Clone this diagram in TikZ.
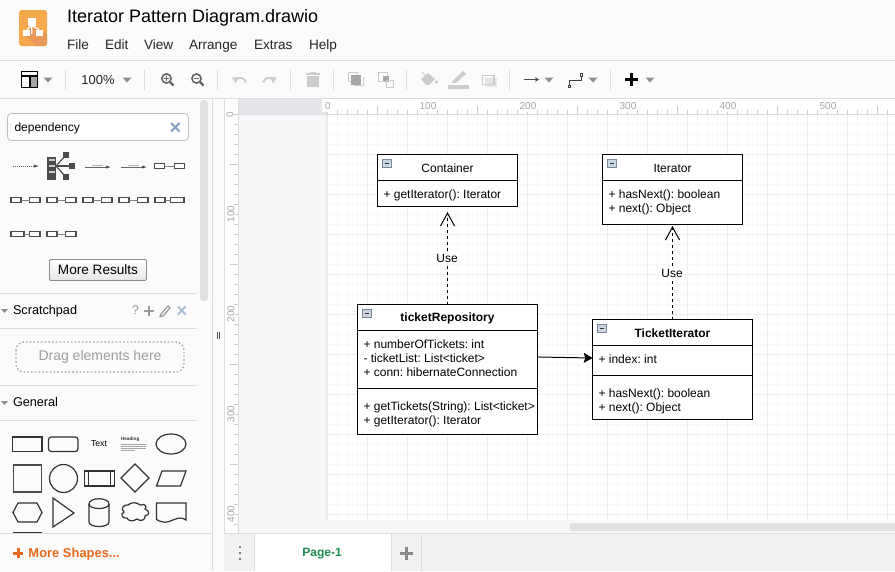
\documentclass[tikz,border=0pt]{standalone}
\usepackage{fontspec}
\setmainfont{Liberation Sans}
\usetikzlibrary{arrows.meta}
\AtBeginDocument{\frenchspacing}
\definecolor{panelbg}{HTML}{FBFBFB}
\definecolor{sepline}{HTML}{DDDDDD}
\definecolor{offpage}{HTML}{F7F8FA}
\definecolor{rulerband}{HTML}{E5E6EA}
\definecolor{gridminor}{HTML}{F8F8F8}
\definecolor{gridmajor}{HTML}{EEEEEE}
\definecolor{tabbar}{HTML}{F1F2F4}
\definecolor{scrollbarc}{HTML}{E0E1E3}
\definecolor{disabledc}{HTML}{CCCCCC}
\definecolor{iconc}{HTML}{666666}
\definecolor{caretc}{HTML}{8F8F8F}
\definecolor{orangec}{HTML}{E8691C}
\definecolor{logoc}{HTML}{F6A84C}
\definecolor{logodark}{HTML}{E8995A}
\definecolor{xblue}{HTML}{7F9FC2}
\definecolor{pagegreen}{HTML}{1C8C50}
\definecolor{collapsef}{HTML}{CBD5E0}
\definecolor{collapsed}{HTML}{7C8896}
\tikzset{
  x=0.75pt,y=-0.75pt,
  every node/.style={inner sep=0pt,outer sep=0pt},
  pxline/.style={line width=0.75pt},
  umlbox/.style={draw=black,pxline,fill=white,anchor=north west,minimum width=#1*0.75pt},
  f12/.style={font=\fontsize{9}{11}\selectfont,text=black},
  f13/.style={font=\fontsize{10.2}{12}\selectfont,text=black!85},
  member/.style={f12,anchor=base west},
  classtitle/.style={f12,anchor=center},
  classbold/.style={font=\bfseries\fontsize{9}{11}\selectfont,text=black,anchor=center},
  usedep/.style={pxline,dash pattern=on 2.25pt off 2.25pt,-{Straight Barb[length=9.75pt,width=10.5pt]}},
  assoc/.style={pxline,-{Stealth[length=6.5pt,width=7.5pt,inset=1pt]}},
  uselabel/.style={f12,fill=white,inner xsep=1pt,inner ysep=0.5pt},
  rulertext/.style={font=\fontsize{7.5}{9}\selectfont,text=black!35},
  collapser/.style={draw=collapsed,fill=collapsef,line width=0.6pt},
  thumb/.style={draw=black!70,line width=1pt,fill=white},
  shapeo/.style={draw=black!80,line width=0.9pt,fill=none},
  menu/.style={f13,anchor=base west},
  sectiont/.style={font=\fontsize{9.5}{12}\selectfont,text=black,anchor=base west},
  caret/.style={fill=caretc,draw=none},
  tbsep/.style={draw=sepline,pxline},
}
\newcommand{\caretat}[2]{\fill[caret] (#1-4.5,#2-2.5) -- (#1+4.5,#2-2.5) -- (#1,#2+2.5) -- cycle;}
\newcommand{\pairthumb}[5]{\draw[thumb] (#1,#5-2.5) rectangle (#2,#5+2.5); \draw[thumb] (#3,#5-2.5) rectangle (#4,#5+2.5); \draw[draw=black!50,line width=0.4pt] (#2,#5) -- (#3,#5);}
\newcommand{\collapseicon}[2]{\draw[collapser] (#1,#2) rectangle (#1+8.5,#2+8.5); \draw[black!80,line width=0.6pt] (#1+2,#2+4.25) -- (#1+6.5,#2+4.25);}
\begin{document}
\begin{tikzpicture}
\useasboundingbox (0,0) rectangle (895,571);
\clip (0,0) rectangle (895,571);
% backgrounds
\fill[panelbg] (0,0) rectangle (895,571);
\fill[offpage] (238,114) rectangle (895,533);
\fill[white] (327,114) rectangle (895,520);
% grid
\foreach \gx in {0,10,...,560} \draw[gridminor,line width=0.6pt] (327+\gx,114) -- (327+\gx,520);
\foreach \gy in {0,10,...,400} \draw[gridminor,line width=0.6pt] (327,114+\gy) -- (895,114+\gy);
\foreach \gx in {0,40,...,560} \draw[gridmajor,line width=0.6pt] (327+\gx,114) -- (327+\gx,520);
\foreach \gy in {0,40,...,400} \draw[gridmajor,line width=0.6pt] (327,114+\gy) -- (895,114+\gy);
\draw[black!10,line width=0.75pt] (326.5,114) -- (326.5,520);
% rulers
\fill[white] (224,98) rectangle (895,114);
\fill[rulerband] (238,98) rectangle (327,113.5);
\fill[white] (224,114) rectangle (238,533);
\draw[sepline,pxline] (238,114) -- (895,114);
\draw[sepline,pxline] (238,98) -- (238,533);
\draw[sepline,pxline] (224,98) -- (224,571);
\draw[sepline,pxline] (212,98) -- (212,571);
\foreach \tx in {0,10,...,560} \draw[black!20,line width=0.5pt] (327+\tx,110) -- (327+\tx,114);
\foreach \tx in {50,150,250,350,450,550} \draw[black!20,line width=0.5pt] (327+\tx,106) -- (327+\tx,114);
\foreach \ty in {0,10,...,410} \draw[black!20,line width=0.5pt] (234,114+\ty) -- (238,114+\ty);
\foreach \ty in {50,150,250,350} \draw[black!20,line width=0.5pt] (230,114+\ty) -- (238,114+\ty);
\fill[white] (322,99) rectangle (333,112);
\node[rulertext] (rt0) at (328,106) {0};
\foreach \n in {100,200,300,400,500} {\fill[white] (327+\n-8,100) rectangle (327+\n+10,112); \node[rulertext] (rt\n) at (328+\n,106) {\n};}
\node[rulertext,rotate=90] (rl0) at (230,114.5) {0};
\foreach \n in {100,200,300,400} {\fill[white] (225,114+\n-9) rectangle (235,114+\n+9); \node[rulertext,rotate=90] (rl\n) at (231,114+\n) {\n};}
% top header
\draw[sepline,pxline] (0,60.5) -- (895,60.5);
\draw[sepline,pxline] (0,98) -- (895,98);
\fill[logoc,rounded corners=2pt] (19,10) rectangle (47,46);
\fill[logodark] (26,36) -- (33,24) -- (47,34) -- (47,44) -- (45,46) -- (36,46) -- cycle;
\fill[white] (28,18) rectangle (35.5,26);
\fill[white] (23,29.5) rectangle (30,36);
\fill[white] (36,29.5) rectangle (43,36);
\draw[white,line width=1pt] (31.8,26) -- (31.8,34) (27,29.5) -- (31.8,25.5) -- (39,29.5);
\node[font=\fontsize{13.5}{16}\selectfont,text=black,anchor=base west] (title) at (67,22) {Iterator Pattern Diagram.drawio};
\node[menu] (mFile) at (67,49) {File};
\node[menu] (mEdit) at (105,49) {Edit};
\node[menu] (mView) at (144,49) {View};
\node[menu] (mArrange) at (189,49) {Arrange};
\node[menu] (mExtras) at (254,49) {Extras};
\node[menu] (mHelp) at (309,49) {Help};
% toolbar
\draw[black,line width=0.8pt] (21.5,71.5) rectangle (37.5,87.5);
\fill[black!35] (30,76) rectangle (37,87);
\draw[black,line width=0.8pt] (21.5,76) -- (37.5,76) (30,76) -- (30,87.5);
\caretat{48}{80}
\foreach \sx in {65.5,144.5,217.5,290.5,333.5,406.5,509.5,610.5} \draw[tbsep] (\sx,70) -- (\sx,90);
\node[font=\fontsize{9.75}{12}\selectfont,text=black!85,anchor=center] (zoomtxt) at (98,80) {100\%};
\caretat{127}{80}
% zoom icons
\draw[iconc,line width=1.2pt] (166.5,78.5) circle[radius=4.6];
\draw[iconc,line width=1.7pt] (170,82) -- (173.5,85.5);
\draw[iconc,line width=0.8pt] (164,78.5) -- (169,78.5) (166.5,76) -- (166.5,81);
\draw[iconc,line width=1.2pt] (196.5,78.5) circle[radius=4.6];
\draw[iconc,line width=1.7pt] (200,82) -- (203.5,85.5);
\draw[iconc,line width=0.8pt] (194,78.5) -- (199,78.5);
% undo / redo
\draw[disabledc,line width=1.4pt] (235,80) .. controls (239,76.5) and (244,77) .. (246,82.5);
\fill[disabledc] (232,77.5) -- (238.5,77) -- (236,83.5) -- cycle;
\draw[disabledc,line width=1.4pt] (274,80) .. controls (270,76.5) and (265,77) .. (263,82.5);
\fill[disabledc] (277,77.5) -- (270.5,77) -- (273,83.5) -- cycle;
% trash
\fill[disabledc] (307,76) rectangle (319,87);
\fill[disabledc] (306,73) rectangle (320,75);
\fill[disabledc] (310,72) rectangle (316,74);
% to front / back
\draw[disabledc,line width=0.7pt] (348,72) rectangle (357,81);
\fill[black!35] (351,75) rectangle (361,85);
\draw[disabledc,line width=0.7pt] (354,85) -- (363,85) -- (363,77);
\draw[disabledc,line width=0.7pt] (378,72) rectangle (387,81);
\fill[black!35] (383,76) rectangle (389,81);
\fill[black!35] (385,77) rectangle (389,82);
\draw[disabledc,line width=0.7pt] (386,80) rectangle (393,87);
% fill, line, shadow
\fill[disabledc] (421,79) -- (428,73) -- (435,79) -- (429,85) -- (426,85) -- cycle;
\draw[disabledc,line width=0.7pt] (422,72) -- (428,78);
\fill[disabledc] (436.5,82) circle[radius=1.8];
\fill[disabledc] (448,85) rectangle (469,88.5);
\fill[disabledc] (452,81.5) -- (463,71) -- (466,74) -- (456,83) -- (452,83) -- cycle;
\fill[black!10] (485,78) rectangle (497,87);
\draw[disabledc,line width=1.2pt] (482.5,75.5) rectangle (494,84.5);
% connector style icons
\draw[black!70,line width=0.8pt,-{Stealth[length=3pt,width=3.5pt]}] (524,79.5) -- (539,79.5);
\caretat{549}{80}
\draw[black!75,line width=0.7pt] (569.5,85) -- (569.5,80.5) -- (581.5,80.5) -- (581.5,75);
\draw[black!75,fill=white,line width=0.6pt] (568,85) rectangle (570.5,87.5);
\draw[black!75,fill=white,line width=0.6pt] (580,73.5) rectangle (582.5,76);
\caretat{593}{80}
\fill[black] (629.5,73) rectangle (632.5,86);
\fill[black] (625,78) rectangle (638,81);
\caretat{650}{80}
% sidebar
\fill[scrollbarc,rounded corners=2.5pt] (200,100) rectangle (208,301);
\draw[black!25,fill=white,rounded corners=3pt,line width=0.6pt] (7.5,113.5) rectangle (188.5,140.5);
\node[f12,anchor=base west] (searchtxt) at (14.5,131) {dependency};
\draw[xblue,line width=1.4pt] (171,123) -- (179.5,131.5) (179.5,123) -- (171,131.5);
% result thumbnails
\draw[black!60,line width=0.5pt,densely dotted] (13,166) -- (34,166);
\fill[black!70] (34,164.5) -- (38.5,166) -- (34,167.5) -- cycle;
\fill[black!70] (47,157) rectangle (56,180);
\foreach \by in {160,166,172} \fill[black!20] (49,\by-0.6) rectangle (55,\by+0.6);
\foreach \ex/\ey in {66/155,72/166,66/177} {\draw[black!70,line width=0.9pt] (56,166) -- (\ex,\ey); \fill[black!70] (\ex-3,\ey-3) rectangle (\ex+3,\ey+3);}
\foreach \ax in {85,121} {
  \draw[black!60,line width=0.5pt] (\ax,167) -- (\ax+22,167);
  \fill[black!70] (\ax+21,165.5) -- (\ax+25.5,167) -- (\ax+21,168.5) -- cycle;
  \fill[black!30] (\ax+7,164.5) rectangle (\ax+18,166);
}
\pairthumb{154.5}{164.5}{174.5}{184.5}{166}
\pairthumb{11}{21}{29.5}{40}{200}
\pairthumb{47}{57}{65.5}{76}{200}
\pairthumb{83}{93}{101.5}{112}{200}
\pairthumb{119}{129}{137.5}{148}{200}
\pairthumb{155}{165}{170.5}{184}{200}
\pairthumb{11}{24}{29.5}{40}{234}
\pairthumb{47}{57}{65.5}{76}{234}
% button
\shade[top color=white,bottom color=black!10,draw=black!45,line width=0.7pt,rounded corners=1pt] (49.5,259.5) rectangle (146.5,280.5);
\node[f13,text=black,anchor=center] (moreres) at (98,270) {More Results};
\draw[sepline,pxline] (0,293.5) -- (197,293.5);
\fill[caretc] (1,309) -- (8,309) -- (4.5,313) -- cycle;
\node[sectiont] (scratch) at (13,314.5) {Scratchpad};
\node[font=\fontsize{9.5}{12}\selectfont,text=black!40,anchor=center] (qmark) at (135.5,310.5) {?};
\fill[black!40] (148,306) rectangle (150,316);
\fill[black!40] (144,310) rectangle (154,312);
\draw[black!40,line width=0.9pt] (161,314) -- (168,306) -- (170,308) -- (163,316) -- (160,316.5) -- cycle;
\draw[xblue!70,line width=1.4pt] (178,306.5) -- (185.5,314.5) (185.5,306.5) -- (178,314.5);
\draw[sepline,pxline] (0,328.5) -- (197,328.5);
\draw[black!35,line width=1pt,dash pattern=on 1.2pt off 1.6pt,rounded corners=6pt] (16,342) rectangle (184,372);
\node[font=\fontsize{10.5}{12}\selectfont,text=black!38,anchor=center] (dragtxt) at (100,357) {Drag elements here};
\draw[sepline,pxline] (0,385.5) -- (197,385.5);
\fill[caretc] (1,401) -- (8,401) -- (4.5,405) -- cycle;
\node[sectiont] (general) at (13,406.5) {General};
\draw[sepline,pxline] (0,420.5) -- (197,420.5);
\draw[black!70,line width=0.6pt] (217.3,332) -- (217.3,339) (219.3,332) -- (219.3,339);
% general shapes
\draw[shapeo] (12.5,437) rectangle (42,451.5);
\draw[shapeo,rounded corners=2pt] (48.5,437) rectangle (78,451.5);
\node[font=\fontsize{6.5}{8}\selectfont,text=black,anchor=center] (shtext) at (99,444) {Text};
\node[font=\bfseries\fontsize{3.5}{4}\selectfont,text=black!80,anchor=west] (shhead) at (121,439) {Heading};
\foreach \ly/\lx in {444/146,446/146,448/146,450/135} \draw[black!35,line width=0.7pt] (121,\ly) -- (\lx,\ly);
\draw[shapeo] (171,444) ellipse[x radius=15,y radius=10];
\draw[shapeo,line width=1.3pt,draw=black!70] (13.5,465) rectangle (41.5,492);
\draw[shapeo] (63.5,478.5) circle[radius=14];
\draw[shapeo] (84.5,471) rectangle (114.5,486);
\draw[shapeo] (88.5,471) -- (88.5,486) (110.5,471) -- (110.5,486);
\draw[shapeo] (121,478) -- (135,464) -- (149,478) -- (135,492) -- cycle;
\draw[shapeo] (156.5,486) -- (162,471) -- (186,471) -- (180.5,486) -- cycle;
\draw[shapeo] (13,512.5) -- (18,503) -- (37,503) -- (42,512.5) -- (37,522) -- (18,522) -- cycle;
\draw[shapeo] (53,498) -- (74,513) -- (53,527) -- cycle;
\draw[shapeo] (89,504) .. controls (89,497) and (109,497) .. (109,504) -- (109,522) .. controls (109,528) and (89,528) .. (89,522) -- cycle;
\draw[shapeo] (89,504) .. controls (89,510) and (109,510) .. (109,504);
\draw[shapeo] (128,505) .. controls (131,502) and (137,502) .. (140,505) .. controls (146,503) and (147,507) .. (145,509) .. controls (150,511) and (150,515) .. (145,516) .. controls (146,520) and (140,522) .. (137,519) .. controls (133,522) and (128,521) .. (127,518) .. controls (122,519) and (120,514) .. (124,512) .. controls (120,509) and (124,504) .. (128,505) -- cycle;
\draw[shapeo] (156.5,503) -- (186,503) -- (186,520) .. controls (178,514) and (170,524) .. (163,522) .. controls (160,521.5) and (158,520.5) .. (156.5,519.5) -- cycle;
\draw[black!80,line width=0.9pt] (13,532.5) -- (42,532.5);
% sidebar footer
\fill[panelbg] (0,533) rectangle (212,571);
\draw[sepline,pxline] (0,533) -- (212,533);
\fill[orangec] (16.5,548) rectangle (19.5,558);
\fill[orangec] (13,551.5) rectangle (23,554.5);
\node[font=\bfseries\fontsize{9.7}{11}\selectfont,text=orangec,anchor=base west] (moreshapes) at (28.5,557.5) {More Shapes...};
% tab bar
\fill[tabbar] (224,533) rectangle (895,571);
\draw[sepline,pxline] (224,533) -- (895,533);
\fill[white] (254,533.5) rectangle (391.5,571);
\draw[sepline,pxline] (254,533) -- (254,571) (391.5,533) -- (391.5,571) (421,533) -- (421,571);
\foreach \dy in {547,553,559} \fill[black!50] (238.5,\dy-1.3) rectangle (241,\dy+1.3);
\node[font=\bfseries\fontsize{9}{11}\selectfont,text=pagegreen,anchor=center] (pagetab) at (322,553.5) {Page-1};
\fill[black!45] (405,547) rectangle (408,560);
\fill[black!45] (400,552) rectangle (413,555);
% canvas scrollbar
\fill[scrollbarc,rounded corners=2pt] (569.5,523) rectangle (900,531);
% UML classes
\node[umlbox=140,minimum height=39pt] (container) at (377.5,154.5) {};
\draw[pxline] (377.5,180.5) -- (517.5,180.5);
\collapseicon{382.5}{159}
\node[classtitle] (containerT) at (447.5,168) {Container};
\node[member] (containerM) at (383.5,198) {+ getIterator(): Iterator};
\node[umlbox=140,minimum height=52.5pt] (iterator) at (602.5,154.5) {};
\draw[pxline] (602.5,180.5) -- (742.5,180.5);
\collapseicon{607.5}{159}
\node[classtitle] (iteratorT) at (672.5,168) {Iterator};
\node[member] (iteratorM1) at (608.5,198) {+ hasNext(): boolean};
\node[member] (iteratorM2) at (608.5,212) {+ next(): Object};
\node[umlbox=180,minimum height=97.5pt] (repo) at (357.5,304.5) {};
\draw[pxline] (357.5,330.5) -- (537.5,330.5);
\draw[pxline] (357.5,388.5) -- (537.5,388.5);
\collapseicon{362.5}{309}
\node[classbold] (repoT) at (447.5,318.5) {ticketRepository};
\node[member] (repoA1) at (363.5,348) {+ numberOfTickets: int};
\node[member] (repoA2) at (363.5,362) {- ticketList: List<ticket>};
\node[member] (repoA3) at (363.5,376) {+ conn: hibernateConnection};
\node[member] (repoO1) at (363.5,410) {+ getTickets(String): List<ticket>};
\node[member] (repoO2) at (363.5,424) {+ getIterator(): Iterator};
\node[umlbox=160,minimum height=75pt] (ticketit) at (592.5,319.5) {};
\draw[pxline] (592.5,345.5) -- (752.5,345.5);
\draw[pxline] (592.5,375.5) -- (752.5,375.5);
\collapseicon{597.5}{324}
\node[classbold] (ticketitT) at (672.5,333.5) {TicketIterator};
\node[member] (ticketitA) at (598.5,363) {+ index: int};
\node[member] (ticketitO1) at (598.5,397) {+ hasNext(): boolean};
\node[member] (ticketitO2) at (598.5,411) {+ next(): Object};
% connectors
\draw[usedep,shorten >=4.1pt] (repo.north) -- (container.south);
\draw[usedep,shorten >=1.1pt] (ticketit.north) -- (iterator.south);
\draw[assoc] ([yshift=9.4pt]repo.east) -- ([yshift=8.6pt]ticketit.west);
\node[uselabel] (use1) at (447,258) {Use};
\node[uselabel] (use2) at (672,273) {Use};
\end{tikzpicture}
\end{document}
